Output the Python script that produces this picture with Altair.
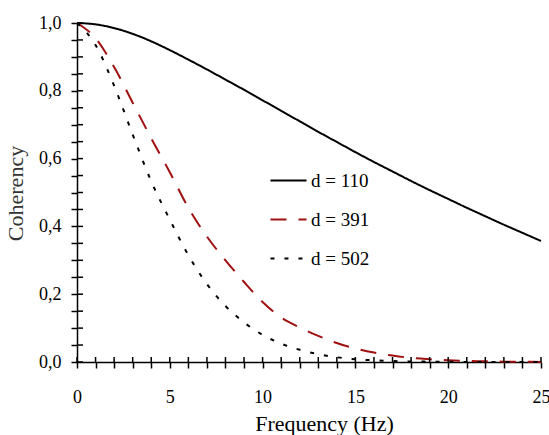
import altair as alt
import pandas as pd

# ---- data ----
freq = list(range(26))
coh_110 = [1.0, 0.996, 0.985, 0.968, 0.946, 0.92, 0.892, 0.863, 0.833, 0.803, 0.772,
           0.741, 0.71, 0.679, 0.649, 0.619, 0.59, 0.562, 0.534, 0.507, 0.481,
           0.455, 0.43, 0.405, 0.381, 0.357]
coh_391 = [1.0, 0.955, 0.87, 0.765, 0.66, 0.56, 0.455, 0.37, 0.3, 0.236, 0.177,
           0.131, 0.102, 0.077, 0.056, 0.04, 0.028, 0.019, 0.012, 0.008, 0.005,
           0.003, 0.002, 0.001, 0.0006, 0.0003]
coh_502 = [1.0, 0.935, 0.815, 0.671, 0.533, 0.42, 0.315, 0.23, 0.165, 0.117, 0.08,
           0.054, 0.036, 0.023, 0.014, 0.008, 0.005, 0.003, 0.0015, 0.001, 0.0005,
           0.0003, 0.0002, 0.0001, 0.0001, 0.0]
series_names = ["d = 110", "d = 391", "d = 502"]
x_ticks = list(range(26))
y_ticks = [0.0, 0.05, 0.1, 0.15, 0.2, 0.25, 0.3, 0.35, 0.4, 0.45, 0.5,
           0.55, 0.6, 0.65, 0.7, 0.75, 0.8, 0.85, 0.9, 0.95, 1.0]

rows = []
for name, vals in zip(series_names, [coh_110, coh_391, coh_502]):
    for f, v in zip(freq, vals):
        rows.append({"f": f, "c": v, "s": name})
df = pd.DataFrame(rows)

W, H = 464, 339
FONT = "Liberation Serif, Times New Roman, serif"

xscale = alt.Scale(domain=[0, 25], nice=False, zero=False)
yscale = alt.Scale(domain=[0, 1], nice=False)

xaxis = alt.Axis(values=x_ticks, title="Frequency (Hz)",
                 labelExpr="datum.value % 5 == 0 ? datum.label : ''",
                 labelOverlap=False,
                 tickSize=6, tickWidth=1.5, tickColor="black",
                 domainColor="black", domainWidth=1.5,
                 labelFont=FONT, labelFontSize=18, labelColor="black",
                 labelPadding=20, labelFlush=False,
                 titleFont=FONT, titleFontSize=22, titleFontWeight="normal",
                 titleColor="black", titleX=247, titleY=61,
                 titleAlign="center", titleBaseline="middle",
                 grid=False)
yaxis = alt.Axis(values=y_ticks, title="Coherency",
                 labelExpr="abs(datum.value*5 - round(datum.value*5)) < 0.001 ? replace(format(datum.value, '.1f'), '.', ',') : ''",
                 labelOverlap=False,
                 tickSize=6, tickWidth=1.5, tickColor="black",
                 domainColor="black", domainWidth=1.5,
                 labelFont=FONT, labelFontSize=18, labelColor="black",
                 labelPadding=10, labelFlush=False,
                 titleFont=FONT, titleFontSize=22, titleFontWeight="normal",
                 titleColor="#333333", titleX=-62, titleY=170,
                 titleAngle=-90, titleAlign="center", titleBaseline="middle",
                 grid=False)

legend_cfg = dict(title=None, orient="none", legendX=192, legendY=138,
                  symbolType="stroke", symbolSize=1300, symbolStrokeWidth=2,
                  labelFont=FONT, labelFontSize=19, labelColor="black",
                  labelOffset=3, rowPadding=9, padding=0)

lines = alt.Chart(df).mark_line(interpolate="monotone", strokeWidth=2).encode(
    x=alt.X("f:Q", scale=xscale, axis=xaxis, title="Frequency (Hz)"),
    y=alt.Y("c:Q", scale=yscale, axis=yaxis, title="Coherency"),
    color=alt.Color("s:N", scale=alt.Scale(domain=series_names,
                                           range=["black", "#a01010", "black"]),
                    legend=alt.Legend(**legend_cfg)),
    strokeDash=alt.StrokeDash("s:N", scale=alt.Scale(domain=series_names,
                                                     range=[[1, 0], [16, 12], [4, 10]]),
                              legend=alt.Legend(**legend_cfg)),
)

ytick_df = pd.DataFrame({"v": y_ticks})
xtick_df = pd.DataFrame({"v": x_ticks})

# inner halves of the ticks (ticks cross the axis lines in the reference)
y_inner = alt.Chart(ytick_df).mark_rule(color="black", strokeWidth=1.5).encode(
    y=alt.Y("v:Q", scale=yscale, axis=yaxis, title="Coherency"),
    x=alt.value(0), x2=alt.value(6),
)
x_inner = alt.Chart(xtick_df).mark_rule(color="black", strokeWidth=1.5).encode(
    x=alt.X("v:Q", scale=xscale, axis=xaxis, title="Frequency (Hz)"),
    y=alt.value(H - 5), y2=alt.value(H),
)

chart = alt.layer(lines, y_inner, x_inner).properties(
    width=W, height=H,
    autosize=alt.AutoSizeParams(type="none"),
    padding={"left": 77, "top": 23, "right": 8, "bottom": 73},
    background="white",
).configure_view(stroke=None).configure_axis(labelOverlap=False)

chart.save("out.html", embed_options={"renderer": "svg", "actions": False})
